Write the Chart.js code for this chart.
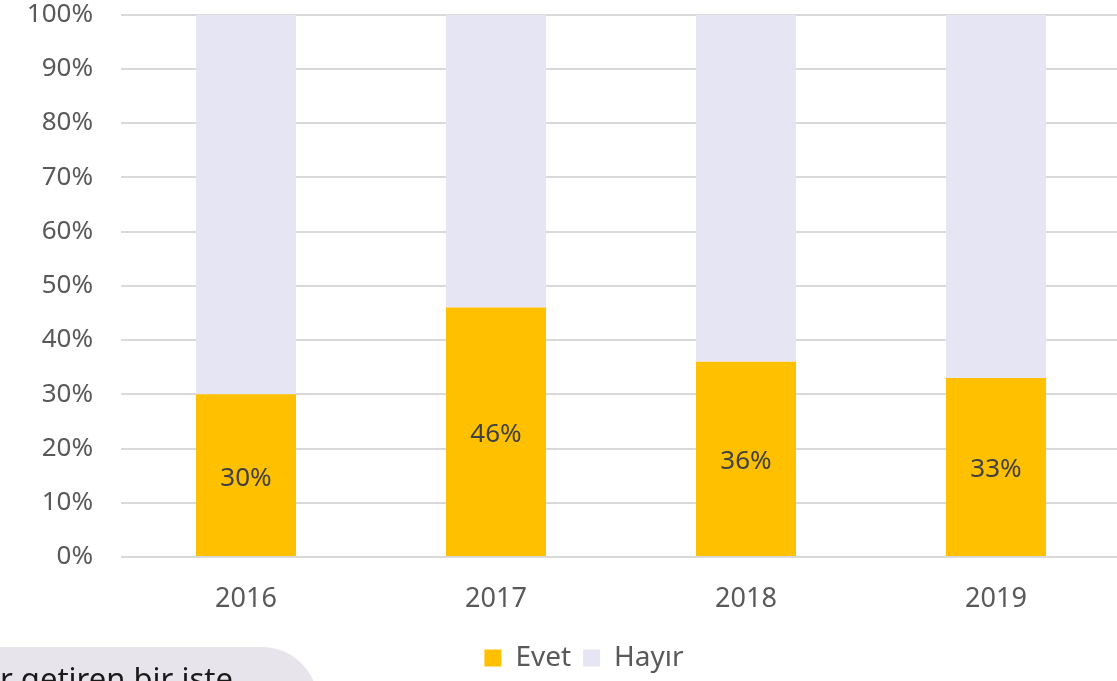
<!DOCTYPE html>
<html>
<head>
<meta charset="utf-8">
<script src="https://cdn.jsdelivr.net/npm/chart.js@4"></script>
<style>
  html, body { margin: 0; padding: 0; background: #fff; overflow: hidden; width: 1117px; height: 681px; }
  #wrap { position: absolute; left: 0; top: -29px; width: 1168px; height: 719px; }
  #note {
    position: absolute; left: 0; top: 647px; width: 318px; height: 60px;
    background: #e8e4ec; border-top-right-radius: 56px;
    font-family: "Noto Sans", sans-serif; font-size: 31px; color: #1a1a1a;
  }
  #note span { position: absolute; left: 0; top: 16px; line-height: 31px; white-space: nowrap; }
</style>
</head>
<body>
<div id="wrap"><canvas id="chart"></canvas></div>
<div id="note"><span>r getiren bir işte</span></div>
<script>
// yıllar ve yanıt oranları (%)
const years = ['2016', '2017', '2018', '2019'];
const evet = [30, 46, 36, 33];
const hayir = [70, 54, 64, 67];
const yTicks = [0, 10, 20, 30, 40, 50, 60, 70, 80, 90, 100];

const FONT = '"Noto Sans", sans-serif';

// Evet çubuklarının ortasına yüzde etiketi
const barLabels = {
  id: 'barLabels',
  afterDatasetsDraw(chart) {
    const ctx = chart.ctx;
    const meta = chart.getDatasetMeta(0);
    ctx.save();
    ctx.font = '26px ' + FONT;
    ctx.fillStyle = '#404040';
    ctx.textAlign = 'center';
    ctx.textBaseline = 'middle';
    meta.data.forEach((bar, i) => {
      const y = (bar.y + bar.base) / 2 + 3;
      ctx.fillText(evet[i] + '%', bar.x, y);
    });
    ctx.restore();
  }
};

new Chart(document.getElementById('chart'), {
  type: 'bar',
  data: {
    labels: years,
    datasets: [
      { label: 'Evet', data: evet, backgroundColor: '#ffc000' },
      { label: 'Hayır', data: hayir, backgroundColor: '#e6e5f4' }
    ]
  },
  options: {
    responsive: true,
    maintainAspectRatio: false,
    animation: false,
    datasets: { bar: { barPercentage: 0.4, categoryPercentage: 1 } },
    layout: { padding: { top: 13, right: 0, left: 0, bottom: 8 } },
    plugins: {
      tooltip: { enabled: false },
      legend: {
        position: 'bottom',
        labels: {
          font: { family: FONT, size: 28 },
          color: '#595959',
          boxWidth: 17,
          boxHeight: 17,
          padding: 12
        }
      }
    },
    scales: {
      x: {
        stacked: true,
        grid: { display: false },
        border: { display: false },
        ticks: { font: { family: FONT, size: 27 }, color: '#595959', padding: 18 },
        afterFit(scale) { scale.height = 75; }
      },
      y: {
        stacked: true,
        min: 0,
        max: 100,
        afterBuildTicks(scale) { scale.ticks = yTicks.map(v => ({ value: v })); },
        grid: { color: '#d9d9d9', lineWidth: 2, drawTicks: false },
        border: { display: false },
        ticks: {
          font: { family: FONT, size: 26 },
          color: '#595959',
          padding: 28,
          callback: v => v + '%'
        },
        afterFit(scale) { scale.width = 121; }
      },
      // sağda boş bir eksen: çizim alanını 1121 px'de bitirir
      yR: {
        position: 'right',
        display: true,
        grid: { display: false },
        border: { display: false },
        ticks: { display: false },
        afterFit(scale) { scale.width = 47; }
      }
    }
  },
  plugins: [barLabels]
});
</script>
</body>
</html>
